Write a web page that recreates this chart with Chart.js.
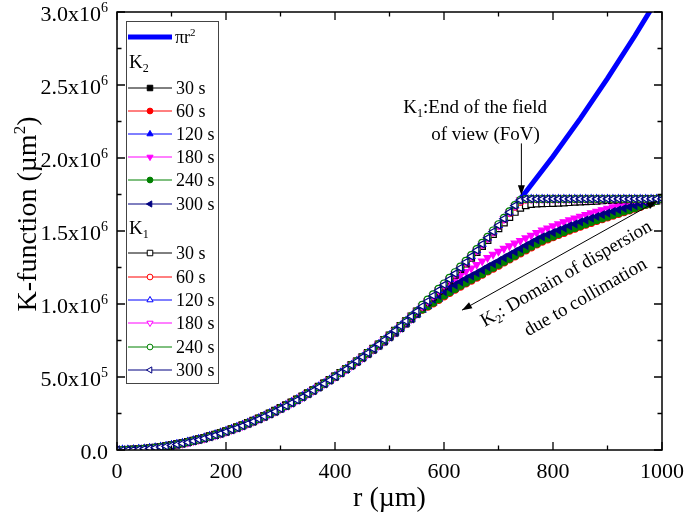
<!DOCTYPE html>
<html>
<head>
<meta charset="utf-8">
<script src="https://cdn.jsdelivr.net/npm/chart.js@4.4.1/dist/chart.umd.min.js"></script>
<style>
  html, body { margin: 0; padding: 0; background: #fff; }
</style>
</head>
<body>
<canvas id="graficoK" width="685" height="514"></canvas>
<script>
// radios r (µm) de las curvas K
const rValues = [0,10,20,30,40,50,60,70,80,90,100,110,120,130,140,150,160,170,180,190,200,210,220,230,240,250,260,270,280,290,300,310,320,330,340,350,360,370,380,390,400,410,420,430,440,450,460,470,480,490,500,510,520,530,540,550,560,570,580,590,600,610,620,630,640,650,660,670,680,690,700,710,720,730,740,750,760,770,780,790,800,810,820,830,840,850,860,870,880,890,900,910,920,930,940,950,960,970,980,990,1000];

// curva teorica pi r^2 (valores en 1e5 µm²)
const piR = [0,50,100,150,200,250,300,350,400,450,500,550,600,650,700,750,800,850,900,950,1000];
const piVals = [0,0.0785,0.314,0.707,1.257,1.963,2.827,3.848,5.027,6.362,7.854,9.503,11.31,13.273,15.394,17.671,20.106,22.698,25.447,28.353,31.416];

// tramo comun r = 0..550 (1e5 µm²)
const earlyK2 = [0,0.00,0.01,0.03,0.05,0.08,0.12,0.16,0.21,0.26,0.33,0.4,0.47,0.56,0.65,0.74,0.84,0.95,1.06,1.18,1.3,1.43,1.57,1.71,1.86,2.01,2.17,2.34,2.51,2.69,2.88,3.07,3.27,3.47,3.68,3.9,4.11,4.34,4.57,4.8,5.04,5.28,5.53,5.79,6.05,6.32,6.59,6.87,7.15,7.44,7.74,8.04,8.35,8.67,8.99,9.32];
const earlyK1 = [0,0.00,0.01,0.03,0.05,0.08,0.11,0.15,0.2,0.25,0.31,0.38,0.45,0.53,0.62,0.71,0.8,0.91,1.02,1.13,1.26,1.39,1.52,1.66,1.81,1.96,2.12,2.29,2.46,2.64,2.83,3.02,3.22,3.42,3.63,3.85,4.07,4.3,4.54,4.78,5.03,5.28,5.54,5.81,6.08,6.36,6.65,6.94,7.24,7.54,7.85,8.17,8.5,8.83,9.16,9.5];

// K2, r = 560..1000
const k2t30  = [9.66,9.9,10.15,10.4,10.65,10.88,11.1,11.32,11.53,11.73,11.93,12.13,12.35,12.55,12.75,12.97,13.17,13.38,13.59,13.8,14.0,14.2,14.4,14.55,14.7,14.85,15.0,15.15,15.28,15.42,15.55,15.68,15.81,15.93,16.05,16.17,16.28,16.4,16.51,16.62,16.73,16.85,16.96,17.08,17.2];
const k2t60  = [9.6,9.82,10.04,10.28,10.52,10.75,10.97,11.19,11.4,11.6,11.8,12.0,12.22,12.42,12.62,12.84,13.04,13.25,13.46,13.67,13.87,14.07,14.27,14.42,14.57,14.72,14.87,15.02,15.15,15.29,15.42,15.55,15.68,15.8,15.93,16.05,16.17,16.29,16.41,16.53,16.65,16.78,16.91,17.05,17.2];
const k2t120 = [9.6,9.85,10.1,10.36,10.62,10.86,11.09,11.32,11.54,11.75,11.96,12.17,12.39,12.6,12.8,13.03,13.23,13.44,13.65,13.86,14.06,14.26,14.46,14.61,14.76,14.91,15.06,15.21,15.34,15.48,15.61,15.74,15.87,15.99,16.11,16.22,16.33,16.44,16.55,16.66,16.77,16.88,16.99,17.1,17.2];
const k2t180 = [9.8,10.12,10.44,10.76,11.08,11.38,11.67,11.95,12.22,12.45,12.7,12.94,13.17,13.4,13.6,13.8,13.98,14.16,14.34,14.52,14.7,14.88,15.05,15.2,15.34,15.48,15.62,15.75,15.88,16.0,16.12,16.23,16.34,16.45,16.55,16.64,16.73,16.81,16.89,16.96,17.02,17.08,17.13,17.17,17.2];
const k2t240 = [9.62,9.85,10.08,10.33,10.58,10.81,11.03,11.25,11.46,11.66,11.86,12.06,12.28,12.48,12.68,12.9,13.1,13.31,13.52,13.73,13.93,14.13,14.33,14.48,14.63,14.78,14.93,15.08,15.21,15.35,15.48,15.61,15.74,15.86,15.98,16.1,16.21,16.33,16.44,16.56,16.68,16.8,16.93,17.06,17.2];
const k2t300 = [9.8,10.07,10.33,10.59,10.85,11.08,11.3,11.52,11.73,11.93,12.13,12.33,12.55,12.75,12.95,13.17,13.37,13.58,13.79,14.0,14.2,14.4,14.6,14.75,14.9,15.05,15.2,15.35,15.48,15.62,15.75,15.88,16.0,16.12,16.23,16.34,16.45,16.55,16.65,16.75,16.85,16.95,17.05,17.13,17.2];

// K1, r = 560..1000
const k1t30  = [9.8,10.15,10.51,10.88,11.25,11.62,12.0,12.38,12.77,13.16,13.56,13.96,14.37,14.78,15.18,15.57,15.95,16.3,16.58,16.76,16.84,16.87,16.89,16.9,16.91,16.93,16.95,16.97,16.99,17.01,17.03,17.05,17.07,17.09,17.11,17.13,17.15,17.16,17.17,17.18,17.19,17.2,17.2,17.2,17.2];
const k1t60  = [9.83,10.18,10.55,10.92,11.29,11.67,12.06,12.45,12.85,13.25,13.66,14.08,14.5,14.93,15.36,15.8,16.24,16.66,17.0,17.15,17.18,17.19,17.2,17.2,17.2,17.2,17.2,17.2,17.2,17.2,17.2,17.2,17.2,17.2,17.2,17.2,17.2,17.2,17.2,17.2,17.2,17.2,17.2,17.2,17.2];
const k1tMid = [9.85,10.2,10.57,10.94,11.31,11.69,12.08,12.47,12.87,13.27,13.68,14.1,14.53,14.96,15.39,15.84,16.29,16.74,17.12,17.2,17.2,17.2,17.2,17.2,17.2,17.2,17.2,17.2,17.2,17.2,17.2,17.2,17.2,17.2,17.2,17.2,17.2,17.2,17.2,17.2,17.2,17.2,17.2,17.2,17.2];
const k1t240 = [9.95,10.3,10.67,11.04,11.41,11.79,12.18,12.57,12.96,13.36,13.77,14.19,14.61,15.04,15.47,15.91,16.35,16.78,17.13,17.2,17.2,17.2,17.2,17.2,17.2,17.2,17.2,17.2,17.2,17.2,17.2,17.2,17.2,17.2,17.2,17.2,17.2,17.2,17.2,17.2,17.2,17.2,17.2,17.2,17.2];

const timeLabels = ['30 s', '60 s', '120 s', '180 s', '240 s', '300 s'];

// ejes
const xMajor = [0, 200, 400, 600, 800, 1000];
const xMinor = [100, 300, 500, 700, 900];
const yMajor = [0, 5e5, 1e6, 1.5e6, 2e6, 2.5e6, 3e6];
const yMinor = [2.5e5, 7.5e5, 1.25e6, 1.75e6, 2.25e6, 2.75e6];
const yMant = ['0.0', '5.0', '1.0', '1.5', '2.0', '2.5', '3.0'];
const yExp  = ['', '5', '6', '6', '6', '6', '6'];

const colores = ['#000000', '#ff0000', '#0000ff', '#ff00ff', '#008000', '#000080'];
const simbolos = ['rect', 'circle', 'triangle', 'triangle', 'circle', 'triangle'];
const giros = [0, 0, 0, 180, 0, -90];
const FUENTE = '"Liberation Serif", "Times New Roman", serif';

function radio(s) { return s === 'rect' ? 4.6 : s === 'circle' ? 3.4 : 4.2; }

function serie(label, early, tail, i, hueco, orden) {
    const vals = early.concat(tail);
    return {
        label: label,
        data: vals.map((v, j) => ({ x: rValues[j], y: v * 1e5 })),
        borderColor: colores[i],
        borderWidth: 1,
        pointStyle: simbolos[i],
        rotation: giros[i],
        pointRadius: radio(simbolos[i]),
        pointBackgroundColor: hueco ? '#ffffff' : colores[i],
        pointBorderColor: colores[i],
        pointBorderWidth: 1.2,
        order: orden
    };
}

const k2Tails = [k2t30, k2t60, k2t120, k2t180, k2t240, k2t300];
const k1Tails = [k1t30, k1t60, k1tMid, k1tMid, k1t240, k1tMid];

const datasets = [{
    label: 'πr²',
    data: piVals.map((v, j) => ({ x: piR[j], y: v * 1e5 })),
    borderColor: '#0000ff',
    borderWidth: 5,
    pointRadius: 0,
    clip: 0,
    order: 20
}];
k2Tails.forEach((t, i) => datasets.push(serie('K2 ' + timeLabels[i], earlyK2, t, i, false, 12 - i)));
k1Tails.forEach((t, i) => datasets.push(serie('K1 ' + timeLabels[i], earlyK1, t, i, true, 6 - i)));

// texto con sub/superindices: partes = [[texto, modo]]
function textoRico(ctx, partes, x, y, size, align) {
    const peq = Math.round(size * 0.62);
    let w = 0;
    partes.forEach(p => { ctx.font = (p[1] ? peq : size) + 'px ' + FUENTE; w += ctx.measureText(p[0]).width; });
    let cx = align === 'right' ? x - w : (align === 'center' ? x - w / 2 : x);
    ctx.textAlign = 'left';
    ctx.textBaseline = 'alphabetic';
    partes.forEach(p => {
        ctx.font = (p[1] ? peq : size) + 'px ' + FUENTE;
        let dy = 0;
        if (p[1] === 'sup') dy = -size * 0.38;
        if (p[1] === 'sub') dy = size * 0.22;
        ctx.fillText(p[0], cx, y + dy);
        cx += ctx.measureText(p[0]).width;
    });
}

function flecha(ctx, x1, y1, x2, y2) {
    const a = Math.atan2(y2 - y1, x2 - x1);
    const L = 10, W = 3.5;
    ctx.beginPath();
    ctx.moveTo(x2, y2);
    ctx.lineTo(x2 - L * Math.cos(a) + W * Math.sin(a), y2 - L * Math.sin(a) - W * Math.cos(a));
    ctx.lineTo(x2 - L * Math.cos(a) - W * Math.sin(a), y2 - L * Math.sin(a) + W * Math.cos(a));
    ctx.closePath();
    ctx.fill();
}

const marco = {
    id: 'marco',
    afterDatasetsDraw(chart) {
        const ctx = chart.ctx;
        const a = chart.chartArea;
        const x = chart.scales.x, y = chart.scales.y;
        ctx.save();
        ctx.strokeStyle = '#000';
        ctx.fillStyle = '#000';
        ctx.lineWidth = 1.5;
        ctx.strokeRect(a.left, a.top, a.right - a.left, a.bottom - a.top);

        // marcas hacia dentro
        ctx.lineWidth = 1.3;
        ctx.beginPath();
        const marcaX = (v, len) => {
            const px = x.getPixelForValue(v);
            ctx.moveTo(px, a.bottom); ctx.lineTo(px, a.bottom - len);
            ctx.moveTo(px, a.top); ctx.lineTo(px, a.top + len);
        };
        const marcaY = (v, len) => {
            const py = y.getPixelForValue(v);
            ctx.moveTo(a.left, py); ctx.lineTo(a.left + len, py);
            ctx.moveTo(a.right, py); ctx.lineTo(a.right - len, py);
        };
        xMajor.forEach(v => marcaX(v, 8));
        xMinor.forEach(v => marcaX(v, 4.5));
        yMajor.forEach(v => marcaY(v, 8));
        yMinor.forEach(v => marcaY(v, 4.5));
        ctx.stroke();

        // etiquetas de ejes
        ctx.font = '22px ' + FUENTE;
        ctx.textAlign = 'center';
        ctx.textBaseline = 'alphabetic';
        xMajor.forEach(v => ctx.fillText(String(v), x.getPixelForValue(v), 478));
        yMajor.forEach((v, i) => {
            const partes = yExp[i] ? [[yMant[i] + 'x10', ''], [yExp[i], 'sup']] : [[yMant[i], '']];
            textoRico(ctx, partes, 108, y.getPixelForValue(v) + 8.5, 22, 'right');
        });

        // titulos
        textoRico(ctx, [['r (µm)', '']], (a.left + a.right) / 2, 506, 28, 'center');
        ctx.save();
        ctx.translate(36, 214);
        ctx.rotate(-Math.PI / 2);
        textoRico(ctx, [['K-function (µm', ''], ['2', 'sup'], [')', '']], 0, 0, 28, 'center');
        ctx.restore();

        // anotacion FoV
        textoRico(ctx, [['K', ''], ['1', 'sub'], [':End of the field', '']], x.getPixelForValue(789), y.getPixelForValue(2.31e6), 19, 'right');
        textoRico(ctx, [['of view (FoV)', '']], x.getPixelForValue(776), y.getPixelForValue(2.125e6), 19, 'right');
        const fx = x.getPixelForValue(742);
        const fy1 = y.getPixelForValue(2.1e6), fy2 = y.getPixelForValue(1.745e6);
        ctx.lineWidth = 1;
        ctx.beginPath(); ctx.moveTo(fx, fy1); ctx.lineTo(fx, fy2 - 6); ctx.stroke();
        flecha(ctx, fx, fy1, fx, fy2);

        // anotacion dispersion
        const ax1 = x.getPixelForValue(633), ay1 = y.getPixelForValue(0.958e6);
        const ax2 = x.getPixelForValue(991), ay2 = y.getPixelForValue(1.705e6);
        ctx.beginPath(); ctx.moveTo(ax1, ay1); ctx.lineTo(ax2, ay2); ctx.stroke();
        flecha(ctx, ax2, ay2, ax1, ay1);
        flecha(ctx, ax1, ay1, ax2, ay2);
        ctx.save();
        ctx.translate(x.getPixelForValue(829), y.getPixelForValue(1.175e6));
        ctx.rotate(-30 * Math.PI / 180);
        textoRico(ctx, [['K', ''], ['2', 'sub'], [': Domain of dispersion', '']], 0, 0, 19, 'center');
        textoRico(ctx, [['due to collimation', '']], 5, 30, 19, 'center');
        ctx.restore();

        // leyenda
        ctx.fillStyle = '#fff';
        ctx.fillRect(126, 21, 92, 362);
        ctx.strokeStyle = '#444';
        ctx.lineWidth = 1;
        ctx.strokeRect(126.5, 21.5, 92, 362);
        const filas = [37, 88, 111, 134, 157, 180, 204, 253, 277, 300, 323, 347, 370];
        const ds = chart.data.datasets;
        ds.forEach((d, i) => {
            const fy = filas[i];
            ctx.strokeStyle = d.borderColor;
            ctx.lineWidth = d.borderWidth;
            ctx.beginPath(); ctx.moveTo(128, fy); ctx.lineTo(172, fy); ctx.stroke();
            if (d.pointRadius) {
                ctx.fillStyle = d.pointBackgroundColor;
                ctx.strokeStyle = d.pointBorderColor;
                ctx.lineWidth = 1;
                Chart.helpers.drawPoint(ctx, { pointStyle: d.pointStyle, rotation: d.rotation, radius: d.pointRadius * 0.85, borderWidth: 1 }, 150, fy);
            }
            ctx.fillStyle = '#000';
            if (i === 0) textoRico(ctx, [['πr', ''], ['2', 'sup']], 175, fy + 6, 18, 'left');
            else textoRico(ctx, [[timeLabels[(i - 1) % 6], '']], 176, fy + 6, 18, 'left');
        });
        ctx.fillStyle = '#000';
        textoRico(ctx, [['K', ''], ['2', 'sub']], 129, 68, 19, 'left');
        textoRico(ctx, [['K', ''], ['1', 'sub']], 129, 234, 19, 'left');
        ctx.restore();
    }
};

new Chart(document.getElementById('graficoK').getContext('2d'), {
    type: 'line',
    data: { datasets: datasets },
    options: {
        responsive: false,
        animation: false,
        layout: { padding: { left: 117, right: 23, top: 12, bottom: 64 }, autoPadding: false },
        scales: {
            x: { type: 'linear', min: 0, max: 1000, display: false },
            y: { type: 'linear', min: 0, max: 3e6, display: false }
        },
        plugins: { legend: { display: false }, tooltip: { enabled: false } }
    },
    plugins: [marco]
});
</script>
</body>
</html>
